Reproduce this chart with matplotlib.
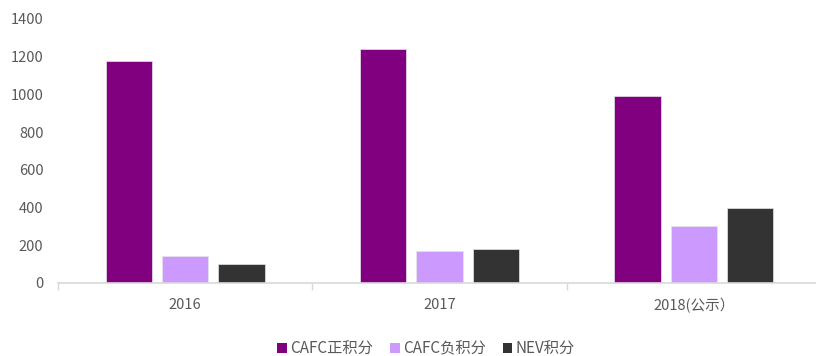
import numpy as np
import matplotlib.pyplot as plt
from matplotlib.patches import Patch

plt.rcParams['font.family'] = ['Noto Sans CJK SC', 'DejaVu Sans']

# Credit totals per year
years = ["2016", "2017", "2018(公示）"]
series_names = ["CAFC正积分", "CAFC负积分", "NEV积分"]
cafc_pos = [1175, 1240, 990]
cafc_neg = [145, 170, 300]
nev = [100, 180, 400]
colors = ["#800080", "#CC99FF", "#333333"]

TEXT = "#595959"

fig = plt.figure(figsize=(8.16, 3.56), dpi=100)
ax = fig.add_axes([58 / 816, 1 - 283 / 356, 763 / 816, 264 / 356])

x = np.arange(len(years))
width = 0.182
step = 0.221
for i, (vals, c) in enumerate(zip([cafc_pos, cafc_neg, nev], colors)):
    ax.bar(x + (i - 1) * step, vals, width=width, color=c,
           edgecolor="#e6e6e6", linewidth=0.5)

ax.set_xlim(-0.5, len(years) - 0.5)
ax.set_ylim(0, 1400)
ax.set_yticks(range(0, 1401, 200))
ax.tick_params(axis="y", length=0, pad=10.5, labelsize=10.5, labelcolor=TEXT)

# category labels in the middle, tick marks on the group boundaries
ax.set_xticks(x)
ax.set_xticklabels(years)
ax.tick_params(axis="x", length=0, pad=11, labelsize=10.5, labelcolor=TEXT)
ax.set_xticks(np.arange(-0.5, len(years)), minor=True)
ax.tick_params(axis="x", which="minor", length=5, color="#d9d9d9", width=1)

for side in ["top", "right", "left"]:
    ax.spines[side].set_visible(False)
ax.spines["bottom"].set_color("#d9d9d9")
ax.spines["bottom"].set_linewidth(1.2)

handles = [Patch(facecolor=c, edgecolor="none") for c in colors]
fig.legend(handles, series_names, loc="center", ncol=3,
           bbox_to_anchor=(426 / 816, 1 - 349 / 356), frameon=False,
           fontsize=11, labelcolor=TEXT, handlelength=0.65, handleheight=0.65,
           handletextpad=0.2, columnspacing=1.1)

fig.savefig("out.png", dpi=100)
